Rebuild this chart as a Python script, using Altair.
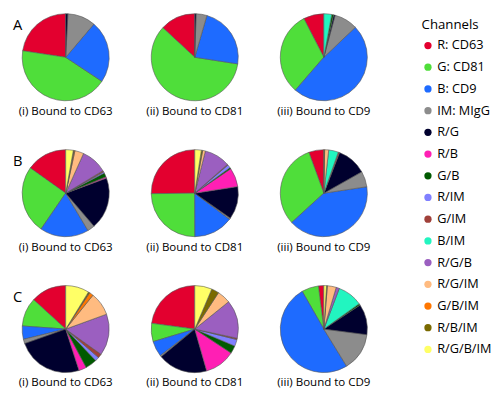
import altair as alt
import pandas as pd

channels = ["R: CD63", "G: CD81", "B: CD9", "IM: MIgG", "R/G", "R/B", "G/B",
            "R/IM", "G/IM", "B/IM", "R/G/B", "R/G/IM", "G/B/IM", "R/B/IM", "R/G/B/IM"]
colors = ["#E3002F", "#4FDE3A", "#1E6BFF", "#8C8C8C", "#00002E", "#FF1FB4", "#005A00",
          "#8080FF", "#A0403A", "#22F5C0", "#9B5FC0", "#FFBB80", "#FF7700", "#7A6A00", "#FFFF66"]

row_labels = ["A", "B", "C"]
panel_titles = ["(i) Bound to CD63", "(ii) Bound to CD81", "(iii) Bound to CD9"]

A_i = [22.6, 43.0, 23.1, 10.4, 0.8, 0, 0, 0, 0, 0, 0, 0, 0, 0, 0]
A_ii = [13.1, 59.4, 22.9, 4.0, 0.5, 0, 0, 0, 0, 0, 0, 0, 0, 0, 0]
A_iii = [7.6, 31.1, 48.5, 8.7, 0.6, 0, 0.7, 0, 0, 2.9, 0, 0, 0, 0, 0]
B_i = [15.1, 25.2, 18.1, 2.7, 19.3, 0.5, 1.5, 0.5, 0.5, 0, 9.6, 3.3, 0.3, 0.3, 2.8]
B_ii = [25.0, 24.7, 14.6, 0.5, 12.1, 7.0, 0.5, 1.2, 0.3, 0, 9.5, 1.0, 0, 0.5, 2.4]
B_iii = [5.6, 31.3, 40.7, 5.8, 11.0, 0, 0, 0, 0.5, 3.6, 0, 1.5, 0, 0.3, 0]
C_i = [13.1, 10.6, 4.9, 1.6, 24.4, 2.8, 4.3, 1.5, 1.5, 0, 15.3, 8.6, 1.5, 0.5, 8.7]
C_ii = [22.9, 6.8, 5.8, 0.5, 18.5, 11.3, 2.9, 2.5, 0.5, 0, 14.2, 5.0, 0, 2.8, 6.4]
C_iii = [2.0, 6.3, 50.6, 14.2, 11.4, 0, 0.6, 0, 0, 9.3, 1.2, 3.3, 0, 0.3, 1.0]

grid = [[A_i, A_ii, A_iii], [B_i, B_ii, B_iii], [C_i, C_ii, C_iii]]

FONT = "Open Sans"
PW, PH = 110, 90

color_enc = alt.Color(
    "channel:N",
    scale=alt.Scale(domain=channels, range=colors),
    legend=alt.Legend(title="Channels", symbolType="circle"),
)


def pie(values, title, letter=None):
    df = pd.DataFrame({"channel": channels, "value": values, "idx": list(range(len(channels)))})
    df = df[df["value"] > 0]
    arc = alt.Chart(df).mark_arc(outerRadius=44.5, stroke="#555555", strokeWidth=0.6).encode(
        theta=alt.Theta("value:Q", stack=True),
        color=color_enc,
        order=alt.Order("idx:Q", sort="descending"),
    )
    layers = [arc]
    if letter is not None:
        t = alt.Chart(pd.DataFrame({"t": [letter]})).mark_text(
            font=FONT, fontSize=15, align="left", baseline="middle", color="#000000"
        ).encode(text="t:N", x=alt.value(1), y=alt.value(12))
        layers.append(t)
    return alt.layer(*layers).properties(
        width=PW, height=PH,
        title=alt.TitleParams(text=title, orient="bottom", offset=4, fontSize=11.8,
                              font=FONT, fontWeight="normal", color="#000000"),
    )


rows = []
for r, row_vals in enumerate(grid):
    panels = [pie(v, panel_titles[c], row_labels[r] if c == 0 else None) for c, v in enumerate(row_vals)]
    rows.append(alt.hconcat(*panels, spacing=22))

chart = alt.vconcat(*rows, spacing=31).properties(
    padding={"left": 4, "top": 0, "right": 0, "bottom": 0}
).configure_view(stroke=None).configure_legend(
    orient="none", legendX=419, legendY=5, padding=0,
    titleFont=FONT, titleFontSize=13.5, titleFontWeight="normal", titleColor="#000000",
    labelFont=FONT, labelFontSize=13, labelColor="#000000",
    symbolSize=55, symbolStrokeWidth=0, rowPadding=8.2, titlePadding=8, labelOffset=3,
)

chart.save("out.html", embed_options={"renderer": "svg", "actions": False})
